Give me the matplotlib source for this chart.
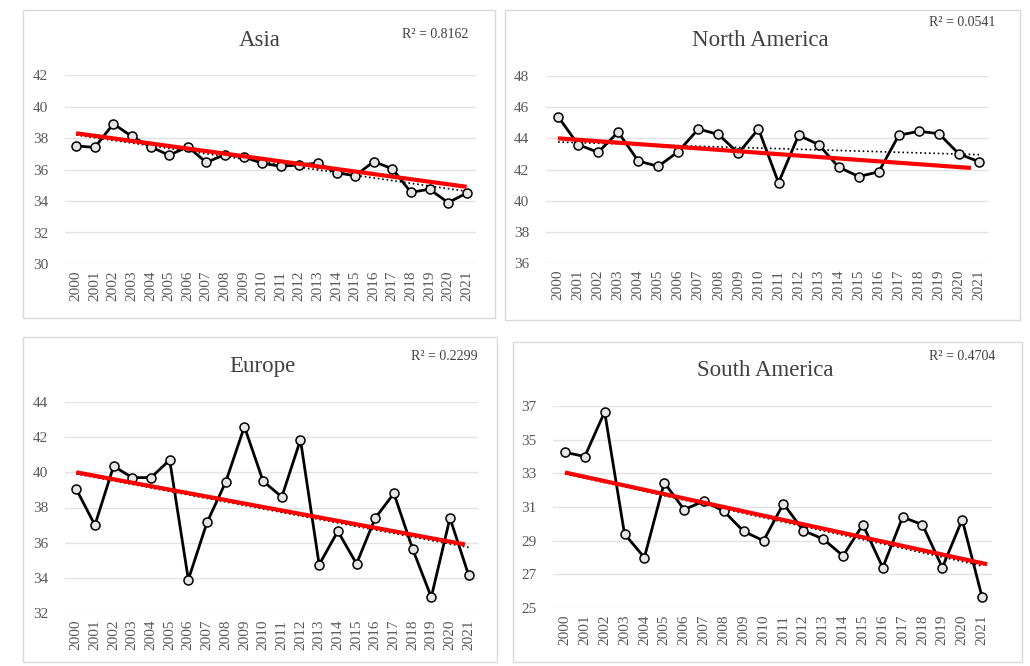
import numpy as np
import matplotlib
matplotlib.use('Agg')
import matplotlib.pyplot as plt
from matplotlib.patches import Rectangle

# 연도 (2000-2021)
years = [str(y) for y in range(2000, 2022)]

# 지역별 값
asia = [37.5, 37.4, 38.9, 38.1, 37.45, 36.9, 37.45, 36.45, 36.95, 36.8, 36.4,
        36.2, 36.3, 36.4, 35.8, 35.6, 36.5, 36.05, 34.55, 34.75, 33.9, 34.5]
north_america = [45.4, 43.6, 43.1, 44.4, 42.55, 42.2, 43.15, 44.6, 44.25, 43.05, 44.6,
                 41.15, 44.2, 43.6, 42.15, 41.55, 41.85, 44.2, 44.45, 44.3, 43.0, 42.5]
europe = [39.05, 37.0, 40.35, 39.7, 39.7, 40.7, 33.9, 37.15, 39.45, 42.6, 39.5,
          38.6, 41.85, 34.75, 36.65, 34.8, 37.4, 38.8, 35.65, 32.9, 37.4, 34.15]
south_america = [34.25, 34.0, 36.65, 29.4, 28.0, 32.45, 30.85, 31.35, 30.75, 29.55, 29.0,
                 31.2, 29.6, 29.1, 28.1, 29.95, 27.4, 30.4, 29.95, 27.4, 30.25, 25.65]

titles = ['Asia', 'North America', 'Europe', 'South America']
r2_labels = ['R² = 0.8162', 'R² = 0.0541', 'R² = 0.2299', 'R² = 0.4704']
y_ranges = [(30, 42), (36, 48), (32, 44), (25, 37)]

# 빨간 선 (손으로 그린 추세선) 시작/끝 (x 인덱스, 값)
red_start = [(0, 38.3), (0, 44.0), (0, 40.0), (0, 33.05)]
red_end = [(21, 34.9), (20.6, 42.1), (20.8, 35.9), (21.25, 27.6)]

W, H = 1030, 666
fig = plt.figure(figsize=(W / 100, H / 100), dpi=100)
plt.rcParams['font.family'] = ['Liberation Serif', 'DejaVu Serif']

def box(l, t, r, b):
    return [l / W, 1 - b / H, (r - l) / W, (b - t) / H]

# 패널 테두리, 축 위치 (픽셀)
panels = [(23, 10, 495, 318), (505, 10, 1020, 320), (23, 337, 497, 662), (513, 342, 1022, 662)]
axes_px = [(65, 75, 476, 264), (546, 76, 989, 263), (65, 402, 478, 613), (553, 406, 992, 608)]
title_pos = [(260, 40), (760, 40), (262, 366), (765, 370)]
r2_pos = [(468, 35), (995, 23), (478, 356), (995, 357)]

series = [asia, north_america, europe, south_america]
gray = '#595959'

for i in range(4):
    l, t, r, b = panels[i]
    fig.patches.append(Rectangle((l / W, 1 - b / H), (r - l) / W, (b - t) / H,
                                 transform=fig.transFigure, fill=False,
                                 edgecolor='#d9d9d9', linewidth=1.0))
    ax = fig.add_axes(box(*axes_px[i]))
    vals = np.array(series[i])
    x = np.arange(len(years))
    lo, hi = y_ranges[i]

    ax.set_ylim(lo, hi)
    ax.set_xlim(-0.6, 21.5)
    ax.set_yticks(np.arange(lo, hi + 1, 2))
    ax.set_xticks(x)
    ax.set_xticklabels(years, rotation=90, fontsize=11, color=gray)
    ax.tick_params(axis='y', labelsize=11, labelcolor=gray, length=0, pad=12)
    ax.tick_params(axis='x', length=0, pad=5)
    ax.grid(axis='y', color='#e3e3e3', linewidth=1.0)
    ax.set_axisbelow(True)
    for s in ax.spines.values():
        s.set_visible(False)

    # 엑셀 선형 추세선 (점선)
    k, c = np.polyfit(x, vals, 1)
    ax.plot(x, k * x + c, color='black', linestyle=':', linewidth=1.2, zorder=2)

    ax.plot(x, vals, color='black', linewidth=2.0, marker='o', markersize=6.5,
            markerfacecolor='#e6e6e6', markeredgecolor='black', markeredgewidth=1.1, zorder=3)

    xs = [red_start[i][0], red_end[i][0]]
    ys = [red_start[i][1], red_end[i][1]]
    ax.plot(xs, ys, color='#ff0000', linewidth=3.0, zorder=4, solid_capstyle='butt')

    tx, ty = title_pos[i]
    fig.text(tx / W, 1 - ty / H, titles[i], ha='center', va='center', fontsize=16.5, color='#404040')
    rx, ry = r2_pos[i]
    fig.text(rx / W, 1 - ry / H, r2_labels[i], ha='right', va='center', fontsize=10, color='#404040')

fig.savefig('out.png', dpi=100, facecolor='white')
